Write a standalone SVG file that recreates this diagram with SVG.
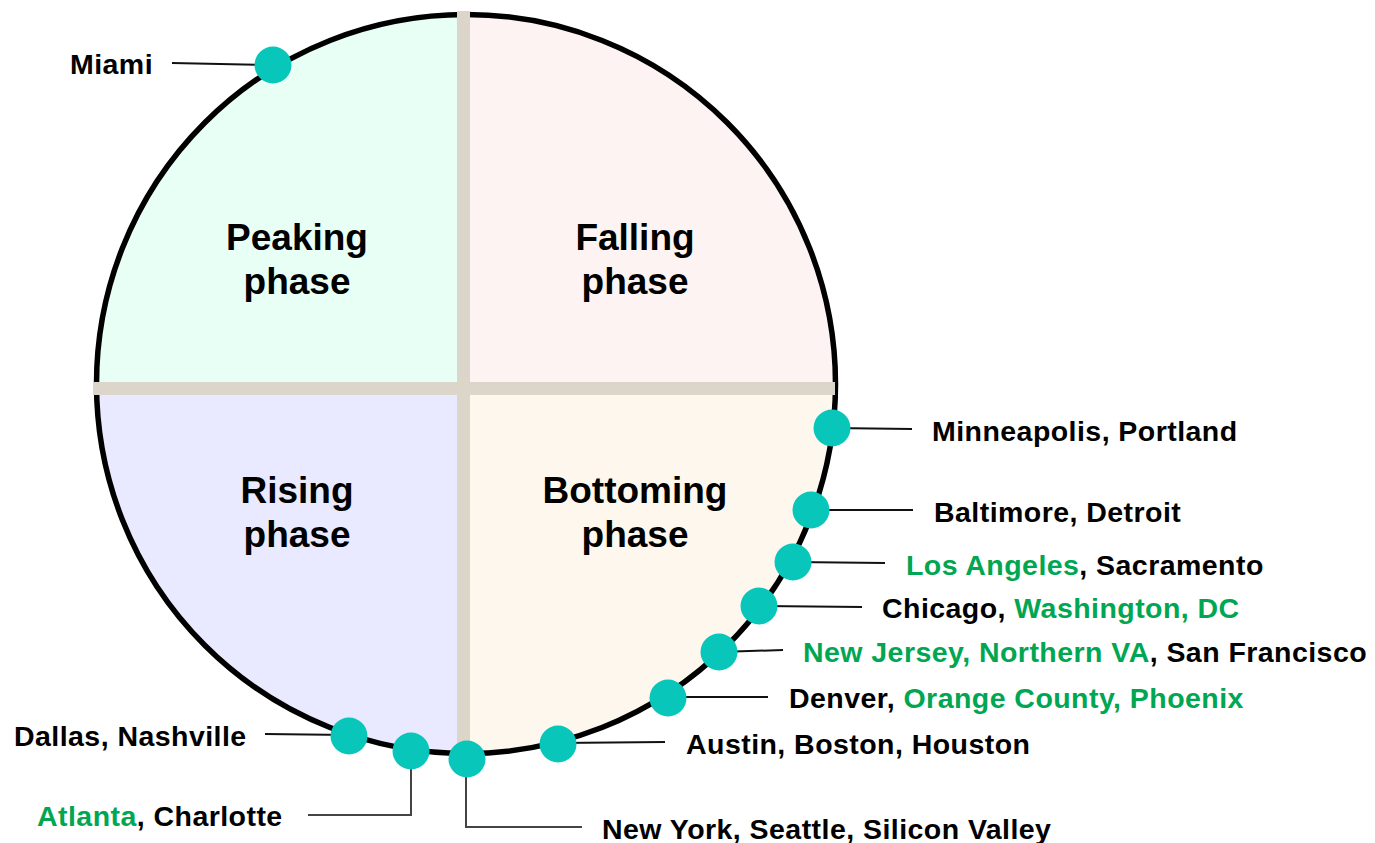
<svg xmlns="http://www.w3.org/2000/svg" width="1375" height="843" viewBox="0 0 1375 843">
<style>
.lbl{font-family:"Liberation Sans",Arial,sans-serif;font-weight:bold;font-size:28.5px;letter-spacing:0.45px;fill:#000}
.g{fill:#00A651}
.ph{font-family:"Liberation Sans",Arial,sans-serif;font-weight:bold;font-size:37px;fill:#000;text-anchor:middle}
.dot{fill:#08C6B9}
.ln{stroke:#111;stroke-width:2;fill:none}
.el{stroke:#444;stroke-width:2;fill:none}
.bar{fill:#DCD5C9}
</style>
<defs>
<clipPath id="cc"><circle cx="466" cy="384" r="369.5"/></clipPath>
</defs>
<rect width="1375" height="843" fill="#fff"/>
<g id="quadrants" clip-path="url(#cc)">
<rect x="90" y="10" width="374" height="379" fill="#E8FFF5"/>
<rect x="464" y="10" width="380" height="379" fill="#FDF3F3"/>
<rect x="90" y="389" width="374" height="370" fill="#E9E9FF"/>
<rect x="464" y="389" width="380" height="370" fill="#FEF7EE"/>
</g>
<circle id="cycle" cx="466" cy="384" r="369.5" fill="none" stroke="#000" stroke-width="5.5"/>
<g id="axes">
<rect class="bar" x="457" y="11" width="13" height="741"/>
<rect class="bar" x="93" y="382" width="742" height="13"/>
</g>
<g id="phases">
<g id="peaking"><text class="ph" x="297" y="250">Peaking</text><text class="ph" x="297" y="294">phase</text></g>
<g id="falling"><text class="ph" x="635" y="250">Falling</text><text class="ph" x="635" y="294">phase</text></g>
<g id="rising"><text class="ph" x="297" y="503">Rising</text><text class="ph" x="297" y="547">phase</text></g>
<g id="bottoming"><text class="ph" x="635" y="503">Bottoming</text><text class="ph" x="635" y="547">phase</text></g>
</g>
<g id="connectors">
<line class="ln" x1="172" y1="63" x2="273" y2="65"/>
<line class="ln" x1="832" y1="428" x2="912" y2="429"/>
<line class="ln" x1="811" y1="510" x2="913" y2="510"/>
<line class="ln" x1="793" y1="562" x2="885" y2="563"/>
<line class="ln" x1="759" y1="606" x2="862" y2="607"/>
<line class="ln" x1="719" y1="652" x2="783" y2="650"/>
<line class="ln" x1="668" y1="697" x2="768" y2="697"/>
<line class="ln" x1="558" y1="743" x2="665" y2="742"/>
<line class="ln" x1="265" y1="734" x2="349" y2="735"/>
<polyline class="el" points="411,751 411,815 308,815"/>
<polyline class="el" points="466,759 466,827 582,827"/>
</g>
<g id="miami"><circle class="dot" cx="273" cy="65" r="18.5"/><text class="lbl" x="70" y="74">Miami</text></g>
<g id="minneapolis"><circle class="dot" cx="832" cy="428" r="18.5"/><text class="lbl" x="932" y="441">Minneapolis, Portland</text></g>
<g id="baltimore"><circle class="dot" cx="811" cy="510" r="18.5"/><text class="lbl" x="934" y="522">Baltimore, Detroit</text></g>
<g id="losangeles"><circle class="dot" cx="793" cy="562" r="18.5"/><text class="lbl" x="906" y="575"><tspan class="g">Los Angeles</tspan>, Sacramento</text></g>
<g id="chicago"><circle class="dot" cx="759" cy="606" r="18.5"/><text class="lbl" x="882" y="618">Chicago, <tspan class="g">Washington, DC</tspan></text></g>
<g id="newjersey"><circle class="dot" cx="719" cy="652" r="18.5"/><text class="lbl" x="803" y="662"><tspan class="g">New Jersey, Northern VA</tspan>, San Francisco</text></g>
<g id="denver"><circle class="dot" cx="668" cy="698" r="18.5"/><text class="lbl" x="789" y="708">Denver, <tspan class="g">Orange County, Phoenix</tspan></text></g>
<g id="austin"><circle class="dot" cx="558" cy="744" r="18.5"/><text class="lbl" x="686" y="754">Austin, Boston, Houston</text></g>
<g id="dallas"><circle class="dot" cx="349" cy="736" r="18.5"/><text class="lbl" x="14" y="746">Dallas, Nashville</text></g>
<g id="atlanta"><circle class="dot" cx="411" cy="751" r="18.5"/><text class="lbl" x="37" y="826"><tspan class="g">Atlanta</tspan>, Charlotte</text></g>
<g id="newyork"><circle class="dot" cx="467" cy="759" r="18.5"/><text class="lbl" x="602" y="839">New York, Seattle, Silicon Valley</text></g>
</svg>
